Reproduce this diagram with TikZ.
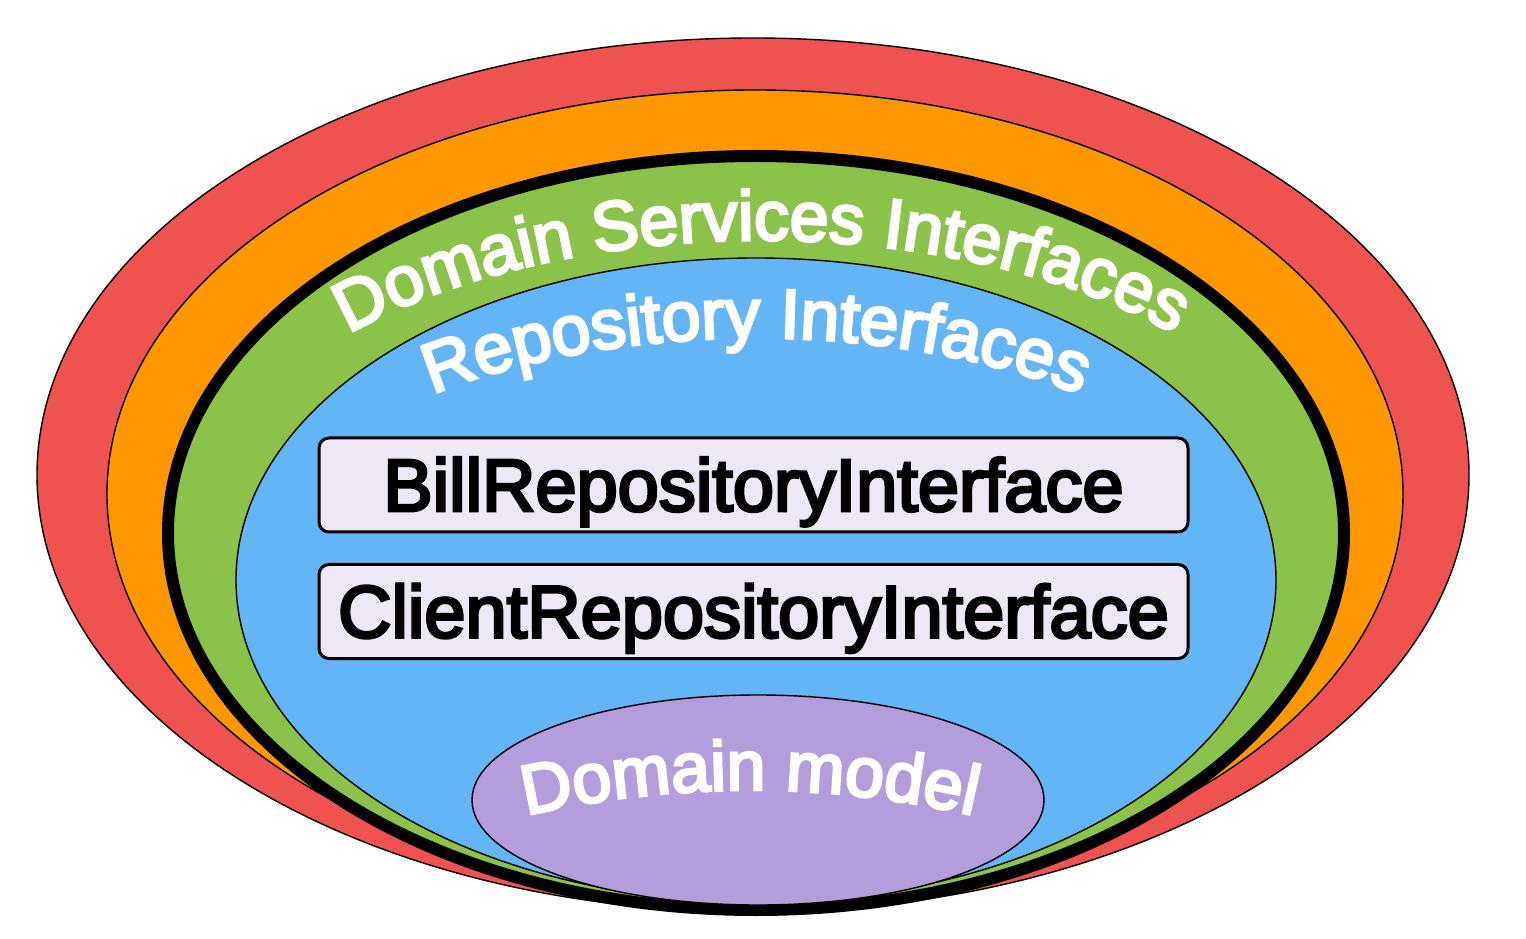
\documentclass[tikz,border=0pt]{standalone}
\usepackage{fontspec}
\setmainfont{Liberation Sans}
\newfontfamily\medfont{Liberation Sans}[FakeBold=4]
\usetikzlibrary{decorations.text,shapes.geometric}
\definecolor{layerred}{HTML}{EF5350}
\definecolor{layerorange}{HTML}{FF9800}
\definecolor{layergreen}{HTML}{8BC34A}
\definecolor{layerblue}{HTML}{64B5F6}
\definecolor{layerpurple}{HTML}{B39DDB}
\definecolor{boxfill}{HTML}{EDE7F6}
\tikzset{
  layer/.style={draw=black, line width=1.4pt},
  ifacebox/.style={draw=black, line width=3pt, fill=boxfill, rounded corners=10pt,
    minimum width=869pt, minimum height=94pt, inner sep=0pt,
    text height=52pt, text depth=0pt,
    font=\medfont\fontsize{74}{80}\selectfont},
  curvedlabel/.style={decorate, decoration={text along path, text align=center,
    text color=white}}
}
\begin{document}
\begin{tikzpicture}[x=1pt,y=1pt]
\useasboundingbox (0,0) rectangle (1526,938);
% outer layers
\path[layer, fill=layerred] (753,463) ellipse [x radius=716, y radius=437];
\path[layer, fill=layerorange] (755,444) ellipse [x radius=648, y radius=404];
\path[draw=black, line width=12pt, fill=layergreen] (756,405) ellipse [x radius=588, y radius=377];
\path[layer, fill=layerblue] (756,358) ellipse [x radius=520, y radius=322];
\node[layer, fill=layerpurple, ellipse, minimum width=572pt, minimum height=210pt, inner sep=0pt] (model) at (758,138) {};
% boxes
\node[ifacebox] (bill) at (753.5,453) {BillRepositoryInterface};
\node[ifacebox] (client) at (753.5,326.5) {ClientRepositoryInterface};
% curved labels
\path[curvedlabel, decoration={text={|\medfont\fontsize{70}{80}\selectfont|Domain Services Interfaces}}]
  (350,605) arc[start angle=137.2, end angle=42.8, x radius=561, y radius=290];
\path[curvedlabel, decoration={text={|\medfont\fontsize{70}{80}\selectfont|Repository Interfaces}}]
  (431,543) arc[start angle=130.2, end angle=49.8, x radius=504, y radius=242];
\path[curvedlabel, decoration={text={|\medfont\fontsize{70}{80}\selectfont|Domain model}}]
  (528,123) arc[start angle=102.85, end angle=77.15, radius=998];
\end{tikzpicture}
\end{document}
